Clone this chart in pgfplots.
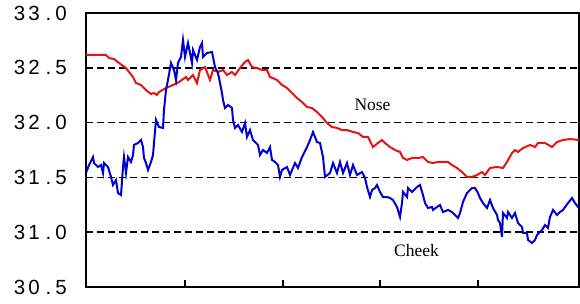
\documentclass[border=0pt]{standalone}
\usepackage{pgfplots}
\pgfplotsset{compat=1.18}
\usepackage{fontspec}
\setmainfont{Liberation Serif}
\newfontfamily\tickfont{Liberation Sans}
\definecolor{nosered}{RGB}{228,20,20}
\definecolor{cheekblue}{RGB}{0,0,210}
\begin{document}
\begin{tikzpicture}[x=1pt,y=1pt]
\useasboundingbox (0,0) rectangle (580,304);
\begin{axis}[
  at={(86pt,17pt)}, anchor=south west,
  scale only axis, width=493pt, height=274pt,
  xmin=0, xmax=493, ymin=30.5, ymax=33.0,
  xtick={99,197,294,392}, xticklabels={},
  xtick pos=bottom, tick align=inside, major tick length=7pt,
  ytick={30.5,31.0,31.5,32.0,32.5,33.0},
  yticklabels={
    {3\kern3pt 0\kern6pt.\kern4pt 5},
    {3\kern3pt 1\kern6pt.\kern4pt 0},
    {3\kern3pt 1\kern6pt.\kern4pt 5},
    {3\kern3pt 2\kern6pt.\kern4pt 0},
    {3\kern3pt 2\kern6pt.\kern4pt 5},
    {3\kern3pt 3\kern6pt.\kern4pt 0}},
  ytick style={draw=none},
  yticklabel style={font=\tickfont\fontsize{20.5}{20.5}\selectfont, anchor=east, inner sep=0pt, xshift=-19pt},
  ymajorgrids, grid style={black, line width=1.6pt, dash pattern=on 7pt off 4pt},
  axis line style={line width=1.6pt},
  every tick/.style={black, line width=1.6pt},
]
\addplot[nosered, line width=2pt] coordinates {
(0,32.617)(20,32.617)(23,32.589)(28,32.580)(33,32.544)(40,32.498)(43,32.462)(47,32.416)
(50,32.361)(55,32.343)(60,32.297)(65,32.261)(68,32.270)(71,32.252)(73,32.279)(80,32.316)
(87,32.343)(93,32.370)(100,32.416)(102,32.389)(107,32.434)(111,32.361)(114,32.480)(119,32.507)
(124,32.389)(127,32.480)(132,32.462)(137,32.480)(141,32.434)(146,32.462)(149,32.434)(154,32.498)
(159,32.553)(162,32.571)(166,32.507)(171,32.498)(176,32.480)(181,32.480)(184,32.416)(191,32.389)
(196,32.343)(201,32.316)(206,32.270)(211,32.224)(216,32.188)(221,32.142)(226,32.133)(231,32.097)
(236,32.051)(241,31.996)(246,31.960)(251,31.951)(256,31.932)(261,31.932)(267,31.914)(272,31.905)
(277,31.869)(282,31.869)(287,31.777)(292,31.814)(296,31.841)(299,31.814)(304,31.777)(309,31.750)
(314,31.732)(317,31.677)(321,31.659)(326,31.677)(332,31.677)(337,31.686)(342,31.641)(347,31.631)
(352,31.641)(357,31.641)(362,31.641)(366,31.613)(371,31.586)(376,31.549)(381,31.504)(386,31.504)
(391,31.522)(396,31.549)(399,31.522)(404,31.586)(411,31.595)(417,31.586)(421,31.641)(426,31.723)
(429,31.750)(432,31.732)(437,31.768)(444,31.796)(449,31.777)(452,31.814)(459,31.814)(466,31.777)
(471,31.823)(477,31.841)(484,31.850)(493,31.841)
};
\addplot[cheekblue, line width=2pt] coordinates {
(0,31.540)(3,31.613)(7,31.686)(8,31.631)(12,31.595)(15,31.613)(17,31.540)(18,31.631)
(22,31.595)(25,31.504)(27,31.431)(30,31.476)(32,31.358)(35,31.339)(37,31.595)(38,31.686)
(40,31.540)(42,31.686)(45,31.641)(47,31.704)(48,31.796)(52,31.814)(55,31.841)(57,31.777)
(58,31.677)(60,31.631)(62,31.568)(65,31.641)(67,31.704)(68,31.814)(70,32.024)(73,31.960)
(77,31.951)(78,32.115)(80,32.297)(82,32.389)(85,32.544)(88,32.480)(90,32.389)(92,32.544)
(95,32.599)(97,32.754)(99,32.599)(102,32.726)(106,32.544)(107,32.662)(111,32.571)(114,32.690)
(116,32.726)(117,32.599)(121,32.635)(126,32.644)(127,32.599)(129,32.507)(132,32.453)(134,32.361)
(136,32.270)(137,32.206)(139,32.133)(142,32.161)(146,32.133)(147,32.024)(149,31.951)(152,31.978)
(156,31.914)(159,31.996)(161,31.869)(164,31.932)(167,31.841)(172,31.796)(174,31.704)(177,31.750)
(181,31.723)(184,31.777)(186,31.659)(189,31.641)(192,31.613)(194,31.504)(196,31.568)(201,31.595)
(204,31.522)(209,31.631)(212,31.586)(216,31.686)(221,31.777)(224,31.841)(227,31.914)(231,31.823)
(234,31.814)(237,31.686)(239,31.504)(244,31.540)(247,31.631)(251,31.540)(254,31.641)(257,31.540)
(261,31.631)(264,31.522)(267,31.613)(271,31.522)(276,31.549)(279,31.495)(281,31.412)(284,31.321)
(286,31.385)(289,31.403)(291,31.431)(294,31.367)(297,31.321)(301,31.321)(304,31.312)(307,31.294)
(311,31.230)(314,31.139)(316,31.266)(317,31.367)(321,31.321)(322,31.403)(326,31.367)(331,31.412)
(334,31.431)(337,31.339)(339,31.266)(342,31.221)(346,31.230)(347,31.203)(351,31.230)(354,31.248)
(357,31.184)(362,31.203)(366,31.184)(369,31.157)(372,31.130)(374,31.175)(377,31.276)(381,31.358)
(386,31.403)(389,31.403)(392,31.358)(394,31.312)(397,31.266)(401,31.221)(404,31.294)(407,31.221)
(411,31.157)(412,31.111)(414,31.084)(416,30.956)(417,31.175)(421,31.130)(422,31.184)(426,31.130)
(429,31.175)(432,31.084)(436,31.047)(437,30.993)(441,30.993)(442,30.929)(446,30.901)(449,30.929)
(451,30.974)(456,31.020)(459,31.066)(462,31.038)(464,31.139)(467,31.203)(471,31.157)(474,31.184)
(477,31.203)(482,31.266)(486,31.312)(489,31.266)(492,31.230)(493,31.240)
};
\node[anchor=base, font=\fontsize{17.5}{17.5}\selectfont, inner sep=0pt] at (axis cs:286.5,32.106) {Nose};
\node[anchor=base, font=\fontsize{17.5}{17.5}\selectfont, inner sep=0pt] at (axis cs:330.5,30.774) {Cheek};
\end{axis}
\end{tikzpicture}
\end{document}
